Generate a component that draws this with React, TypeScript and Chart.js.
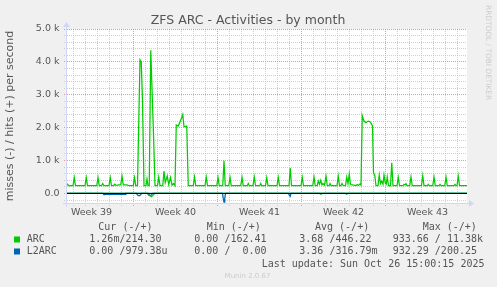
import { useEffect, useRef } from 'react';
import { Chart, registerables } from 'chart.js';

Chart.register(...registerables);

// ---------------- data ----------------
const chartTitle = 'ZFS ARC - Activities - by month';
const yAxisTitle = 'misses (-) / hits (+) per second';

// x axis: hours since the start of the graph window
const spanHours = 800;
const firstMidnightHour = 12;
const weekLabels = ['Week 39', 'Week 40', 'Week 41', 'Week 42', 'Week 43'];
const weekLabelHours = [49, 217, 385, 553, 721];
const weekStartHours = [132, 300, 468, 636];

// y axis
const yMin = -290;
const yMax = 5000;
const yMinorStep = 200;
const yTickValues = [0, 1000, 2000, 3000, 4000, 5000];
const yTickLabels = ['0.0', '1.0 k', '2.0 k', '3.0 k', '4.0 k', '5.0 k'];

// [hour, value per second]
const arcHits: [number, number][] = [
  [0, 300], [3, 235],
  [12, 235], [14.5, 480], [17, 235],
  [36, 235], [38.5, 480], [41, 235],
  [59.5, 235], [62, 480], [64.5, 235],
  [69, 235], [71.5, 300], [74, 235],
  [84, 235], [86.5, 480], [89, 235],
  [93, 235], [95.5, 280], [98, 245],
  [104, 260], [107.5, 260], [110, 530], [112.5, 260], [120, 260], [124, 235],
  [132.5, 235], [135, 480], [137.5, 235],
  [141, 235], [146, 4060], [148.5, 4000], [151, 2800], [154, 235],
  [158, 235], [160, 440], [162, 235],
  [164.5, 235], [167.5, 4350], [170, 3200], [173, 1800], [176, 235],
  [181, 235], [183.5, 500], [186, 235],
  [191.5, 235], [194, 680], [196.5, 330], [200.5, 530], [203.5, 270], [207, 480], [210, 250], [213, 300], [216, 235],
  [217, 235], [218.5, 2080], [222.5, 2050], [227.5, 2230], [231.5, 2400], [234, 2030], [236, 2030], [239.5, 2050], [242.5, 235],
  [252.5, 235], [255, 500], [257.5, 235],
  [276, 235], [278.5, 500], [281, 235],
  [299.5, 235], [302, 490], [304.5, 235],
  [311.5, 235], [314, 990], [316.5, 235],
  [323.5, 235], [326, 490], [328.5, 235],
  [347.5, 235], [350, 490], [352.5, 235],
  [360.5, 235], [362.5, 300], [364.5, 235],
  [372, 235], [374.5, 500], [377, 235],
  [385.5, 235], [387.5, 300], [389.5, 235],
  [397, 235], [399.5, 480], [402, 235],
  [420, 235], [422.5, 490], [425, 235],
  [444, 235], [446.5, 770], [449, 235],
  [468, 235], [470.5, 490], [473, 235],
  [491.5, 235], [494, 500], [496.5, 235],
  [500.5, 235], [502.5, 380], [505, 280], [507.5, 400], [510, 260], [512, 300], [515, 250], [518, 530], [520.5, 235],
  [524, 235], [526, 300], [528, 235],
  [540, 235], [542.5, 530], [545, 235],
  [548, 240], [550, 300], [552, 250],
  [557, 235], [559.5, 500], [562, 300], [564.5, 590], [567, 270], [571, 260],
  [578, 240], [580.5, 270], [583, 245], [586, 290], [588, 250],
  [589.5, 250], [590.5, 2370], [594, 2200], [598, 2150], [602.5, 2200], [606, 2180], [609.5, 2100], [611, 2050], [613, 620], [615.5, 560], [618, 235],
  [622, 235], [624.5, 560], [627, 300], [629.5, 370], [632, 280], [634, 560], [636.5, 320], [638.5, 280], [640.5, 500], [643, 240],
  [647, 235], [649.5, 930], [652, 235],
  [660, 235], [662.5, 490], [665, 235],
  [672, 235], [674, 280], [676, 260], [678, 300], [680, 235],
  [685.5, 235], [688, 500], [690.5, 235],
  [709, 235], [711.5, 540], [714, 235],
  [720.5, 235], [722.5, 280], [724.5, 235],
  [731.5, 235], [734, 500], [736.5, 235],
  [744, 235], [746, 280], [748, 235],
  [755.5, 235], [758, 500], [760.5, 235],
  [774, 235], [776, 280], [778, 235],
  [780, 235], [782.5, 530], [785, 235],
  [800, 235],
];

// misses are drawn below zero
const arcMisses: [number, number][] = [
  [0, 0], [163, 0], [166, 60], [169, 100], [172, 60], [175, 0],
  [505, 0], [508, 25], [511, 0], [557, 0], [559.5, 25], [562, 0], [800, 0],
];

const l2arcMisses: [number, number][] = [
  [0, 0], [72, 0], [73.5, 25], [116, 25], [117.5, 0],
  [139, 0], [141, 50], [144, 70], [147, 50], [149, 0],
  [161, 0], [163, 50], [166, 70], [169, 50], [171, 0],
  [311, 0], [312.5, 150], [314, 260], [315.5, 150], [317, 0],
  [443, 0], [445, 60], [446.5, 90], [448, 0], [800, 0],
];

const l2arcHits: [number, number][] = [[0, 0], [800, 0]];

// legend table
const seriesNames = ['ARC', 'L2ARC'];
const seriesColors = ['#00CC00', '#0066B3'];
const legendHeaders = ['Cur (-/+)', 'Min (-/+)', 'Avg (-/+)', 'Max (-/+)'];
const curValues = ['1.26m/214.30', '0.00 /979.38u'];
const minValues = ['0.00 /162.41', '0.00 /  0.00'];
const avgValues = ['3.68 /446.22', '3.36 /316.79m'];
const maxValues = ['933.66 / 11.38k', '932.29 /200.25'];
const lastUpdate = 'Last update: Sun Oct 26 15:00:15 2025';
const creditText = 'Munin 2.0.67';
const watermark = 'RRDTOOL / TOBI OETIKER';

// ---------------- style ----------------
const BACK = '#F0F0F0';
const CANVAS = '#FFFFFF';
const FONT = '#555555';
const AXIS = '#CFD6F8';
const GRID = 'rgba(191,191,191,0.75)';
const MGRID = 'rgba(230,115,115,0.75)';
const SANS = '"DejaVu Sans", sans-serif';
const MONO = '"DejaVu Sans Mono", monospace';

const toXY = (arr: [number, number][], sign: number) => arr.map(([x, y]) => ({ x, y: sign * y }));

const muninPlugin = {
  id: 'muninDecor',
  beforeDraw(chart: any) {
    const { ctx, chartArea: a, width, height } = chart;
    ctx.save();
    ctx.fillStyle = BACK;
    ctx.fillRect(0, 0, width, height);
    ctx.fillStyle = CANVAS;
    ctx.fillRect(a.left, a.top, a.right - a.left, a.bottom - a.top);
    ctx.restore();
  },
  afterDatasetsDraw(chart: any) {
    const { ctx, chartArea: a } = chart;
    const y0 = Math.round(chart.scales.y.getPixelForValue(0)) + 0.5;
    ctx.save();
    ctx.strokeStyle = '#000000';
    ctx.lineWidth = 1;
    ctx.beginPath();
    ctx.moveTo(a.left, y0);
    ctx.lineTo(a.right, y0);
    ctx.stroke();
    ctx.restore();
  },
  afterDraw(chart: any) {
    const { ctx, chartArea: a } = chart;
    ctx.save();
    // axes with arrows
    const xa = a.left - 0.5;
    const ya = a.bottom + 0.5;
    ctx.strokeStyle = AXIS;
    ctx.fillStyle = AXIS;
    ctx.lineWidth = 1;
    ctx.beginPath();
    ctx.moveTo(a.left - 4, ya);
    ctx.lineTo(a.right + 4, ya);
    ctx.moveTo(xa, a.bottom + 4);
    ctx.lineTo(xa, a.top - 4);
    ctx.stroke();
    ctx.beginPath();
    ctx.moveTo(a.right + 2, ya - 3.5);
    ctx.lineTo(a.right + 2, ya + 3.5);
    ctx.lineTo(a.right + 7, ya);
    ctx.closePath();
    ctx.fill();
    ctx.beginPath();
    ctx.moveTo(xa - 3.5, a.top - 2);
    ctx.lineTo(xa + 3.5, a.top - 2);
    ctx.lineTo(xa, a.top - 7);
    ctx.closePath();
    ctx.fill();

    // title
    ctx.fillStyle = FONT;
    ctx.font = `12.5px ${SANS}`;
    ctx.textAlign = 'center';
    ctx.textBaseline = 'alphabetic';
    ctx.fillText(chartTitle, 248, 24);

    // legend table
    ctx.font = `10px ${MONO}`;
    ctx.textAlign = 'left';
    ctx.textBaseline = 'middle';
    const headerX = [98.3, 206.7, 315, 422.7];
    legendHeaders.forEach((h, i) => ctx.fillText(h, headerX[i], 227.5));
    const colX = [89.3, 194.3, 299.3, 392.7];
    seriesNames.forEach((name, r) => {
      const yc = 239.5 + r * 12;
      ctx.fillStyle = seriesColors[r];
      ctx.fillRect(14, yc - 3, 6, 6);
      ctx.fillStyle = FONT;
      ctx.fillText(name, 26.7, yc);
      [curValues[r], minValues[r], avgValues[r], maxValues[r]].forEach((v, c) => ctx.fillText(v, colX[c], yc));
    });
    ctx.fillText(lastUpdate, 261.7, 264);

    // credits
    ctx.fillStyle = '#CCCCCC';
    ctx.font = `7px ${SANS}`;
    ctx.textAlign = 'center';
    ctx.fillText(creditText, 247.5, 276.5);
    ctx.font = `7.4px ${SANS}`;
    ctx.translate(487.5, 5);
    ctx.rotate(Math.PI / 2);
    ctx.textAlign = 'left';
    ctx.fillText(watermark, 0, 0);
    ctx.restore();
  },
};

export default function App() {
  const ref = useRef<HTMLCanvasElement>(null);

  useEffect(() => {
    document.body.style.margin = '0';
    const canvas = ref.current;
    if (!canvas) return;

    const dayLines: number[] = [];
    for (let h = firstMidnightHour; h < spanHours; h += 24) dayLines.push(h);
    const yLines: number[] = [];
    for (let v = Math.ceil(yMin / yMinorStep) * yMinorStep; v <= yMax; v += yMinorStep) yLines.push(v);

    const lineDs = (label: string, data: any[], color: string, order: number) => ({
      label,
      data,
      borderColor: color,
      backgroundColor: color,
      borderWidth: 1.25,
      pointRadius: 0,
      tension: 0,
      fill: false,
      order,
    });

    const chart = new Chart(canvas, {
      type: 'line',
      data: {
        datasets: [
          lineDs('ARC hits', toXY(arcHits, 1), seriesColors[0], 0),
          lineDs('ARC misses', toXY(arcMisses, -1), seriesColors[0], 1),
          lineDs('L2ARC misses', toXY(l2arcMisses, -1), seriesColors[1], 2),
          lineDs('L2ARC hits', toXY(l2arcHits, 1), seriesColors[1], 3),
        ],
      },
      options: {
        animation: false,
        responsive: false,
        devicePixelRatio: 1,
        events: [],
        layout: { padding: { left: 0, right: 30, top: 29, bottom: 64 } },
        plugins: {
          legend: { display: false },
          title: { display: false },
          tooltip: { enabled: false },
        },
        scales: {
          x: {
            type: 'linear',
            min: 0,
            max: spanHours,
            afterBuildTicks: (scale: any) => {
              const vals = [...dayLines, ...weekLabelHours].sort((p, q) => p - q);
              scale.ticks = vals.map((value) => ({ value }));
            },
            afterFit: (scale: any) => {
              scale.height = 20;
            },
            ticks: {
              autoSkip: false,
              maxRotation: 0,
              minRotation: 0,
              padding: 1,
              color: FONT,
              font: { family: SANS, size: 9.5 },
              callback: (value: any) => {
                const i = weekLabelHours.indexOf(Number(value));
                return i >= 0 ? weekLabels[i] : '';
              },
            },
            grid: {
              drawTicks: true,
              tickLength: 3,
              lineWidth: 1,
              color: (c: any) => {
                const v = c.tick ? c.tick.value : null;
                if (weekLabelHours.includes(v)) return 'rgba(0,0,0,0)';
                return weekStartHours.includes(v) ? MGRID : GRID;
              },
              tickColor: (c: any) => {
                const v = c.tick ? c.tick.value : null;
                if (weekLabelHours.includes(v)) return 'rgba(0,0,0,0)';
                return weekStartHours.includes(v) ? MGRID : GRID;
              },
              tickBorderDash: [1, 1],
            },
            border: { display: false, dash: [1, 1] },
          },
          y: {
            type: 'linear',
            min: yMin,
            max: yMax,
            afterBuildTicks: (scale: any) => {
              scale.ticks = yLines.map((value) => ({ value }));
            },
            afterFit: (scale: any) => {
              scale.width = 67;
            },
            title: {
              display: true,
              text: yAxisTitle,
              color: FONT,
              font: { family: SANS, size: 11 },
              padding: { top: 4, bottom: 0 },
            },
            ticks: {
              autoSkip: false,
              padding: 4.5,
              color: FONT,
              font: { family: SANS, size: 9.5 },
              callback: (value: any) => {
                const i = yTickValues.indexOf(Number(value));
                return i >= 0 ? yTickLabels[i] : '';
              },
            },
            grid: {
              drawTicks: true,
              tickLength: 3,
              lineWidth: 1,
              color: (c: any) => {
                const v = c.tick ? c.tick.value : null;
                return v !== null && v % 1000 === 0 ? MGRID : GRID;
              },
              tickColor: (c: any) => {
                const v = c.tick ? c.tick.value : null;
                return v !== null && v % 1000 === 0 ? MGRID : GRID;
              },
              tickBorderDash: [1, 1],
            },
            border: { display: false, dash: [1, 1] },
          },
        },
      },
      plugins: [muninPlugin],
    } as any);

    return () => chart.destroy();
  }, []);

  return (
    <div style={{ position: 'absolute', left: 0, top: 0, width: 497, height: 287 }}>
      <canvas ref={ref} width={497} height={287} style={{ display: 'block', width: 497, height: 287 }} />
    </div>
  );
}
